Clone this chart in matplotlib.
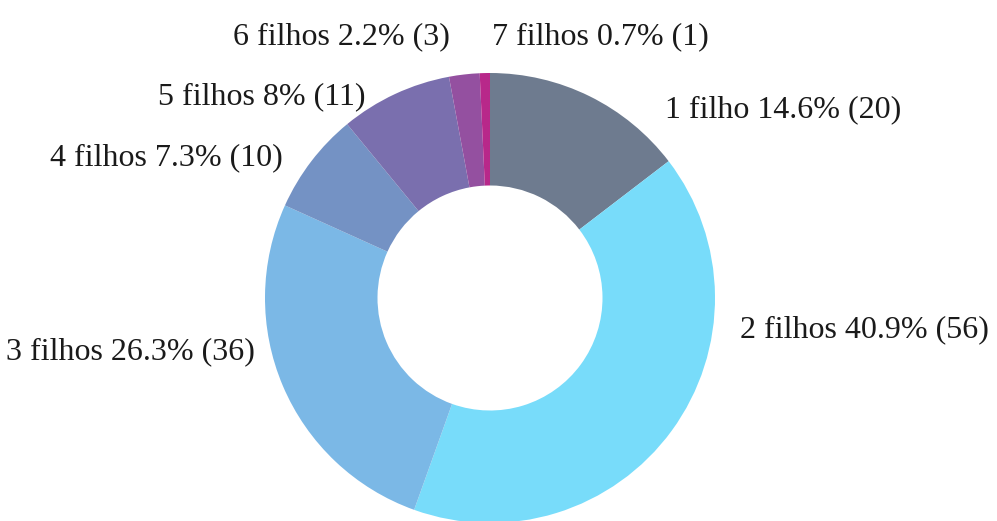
import matplotlib
matplotlib.use("Agg")
import matplotlib.pyplot as plt

categories = ["1 filho", "2 filhos", "3 filhos", "4 filhos", "5 filhos", "6 filhos", "7 filhos"]
counts = [20, 56, 36, 10, 11, 3, 1]
percents = ["14.6%", "40.9%", "26.3%", "7.3%", "8%", "2.2%", "0.7%"]
colors = ["#6e7b8f", "#78dcfa", "#7bb8e6", "#7492c4", "#7a6fae", "#9450a0", "#b8288a"]

# label anchor positions in pixels (x, y from top) and alignment
label_pos = [(665, 110, "left"), (740, 330, "left"), (255, 352, "right"),
             (283, 158, "right"), (365, 97, "right"), (450, 37, "right"), (492, 37, "left")]

W, H = 997, 521
fig = plt.figure(figsize=(W / 100, H / 100), dpi=100)
cx, cy, R = 490, 298, 225
ax = fig.add_axes([(cx - R) / W, (H - cy - R) / H, 2 * R / W, 2 * R / H])
ax.pie(counts, colors=colors, startangle=90, counterclock=False, radius=1.0,
       wedgeprops=dict(width=0.5, edgecolor="none"))
ax.set_xlim(-1, 1)
ax.set_ylim(-1, 1)
ax.set_aspect("equal")
ax.axis("off")

for cat, cnt, pct, (px, py, ha) in zip(categories, counts, percents, label_pos):
    ax.text((px - cx) / R, (cy - py) / R, f"{cat} {pct} ({cnt})", ha=ha, va="center",
            fontsize=23, family="Liberation Serif", color="#1a1a1a", clip_on=False)

fig.savefig("out.png", dpi=100)
